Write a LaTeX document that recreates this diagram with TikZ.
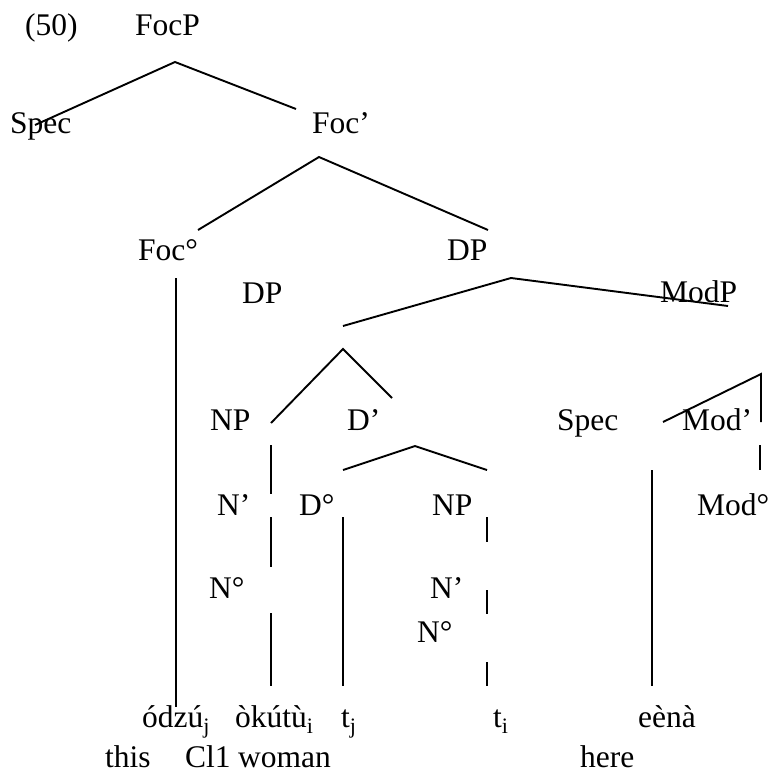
\documentclass[tikz,border=0pt]{standalone}
\usepackage{fontspec}
\setmainfont{Liberation Serif}
\usepackage{tikz}
\tikzset{
  lbl/.style={anchor=base west,inner sep=0pt,font=\fontsize{31.5}{36}\selectfont},
  br/.style={line width=1.9pt,line cap=butt}
}

\begin{document}
\begin{tikzpicture}[x=1pt,y=-1pt]
\useasboundingbox (0,0) rectangle (768,774);
% labels of the tree
\node[lbl] (ex) at (25,35) {(50)};
\node[lbl] (focp) at (135,35) {FocP};
\node[lbl] (specA) at (10,133) {Spec};
\node[lbl] (focbar) at (312,133) {Foc’};
\node[lbl] (foczero) at (138,260) {Foc°};
\node[lbl] (dpA) at (447,260) {DP};
\node[lbl] (dpB) at (242,303) {DP};
\node[lbl] (modp) at (660,302) {ModP};
\node[lbl] (npA) at (210,430) {NP};
\node[lbl] (dbar) at (347,430) {D’};
\node[lbl] (specB) at (557,430) {Spec};
\node[lbl] (modbar) at (682,430) {Mod’};
\node[lbl] (nbarA) at (217,515) {N’};
\node[lbl] (dzero) at (299,515) {D°};
\node[lbl] (npB) at (432,515) {NP};
\node[lbl] (modzero) at (697,515) {Mod°};
\node[lbl] (nzeroA) at (209,598) {N°};
\node[lbl] (nbarB) at (430,598) {N’};
\node[lbl] (nzeroB) at (417,642) {N°};
% words and glosses
\node[lbl] (wA) at (142,727) {ódzú\textsubscript{j}};
\node[lbl] (wB) at (235,727) {òkútù\textsubscript{i}};
\node[lbl] (wC) at (341,727) {t\textsubscript{j}};
\node[lbl] (wD) at (493,727) {t\textsubscript{i}};
\node[lbl] (wE) at (638,727) {eènà};
\node[lbl] (gA) at (105,767) {this};
\node[lbl] (gB) at (185,767) {Cl1};
\node[lbl] (gC) at (238,767) {woman};
\node[lbl] (gD) at (580,767) {here};
% branch points
\foreach \n/\x/\y in {t1/175/62, t1l/35/125, t1r/296/109,
  t2/319/157, t2l/198/230, t2r/488/230,
  t3/511/278, t3l/343/326, t3r/728/306,
  t4/343/349, t4l/271/423, t4r/392/398,
  t5/415/446, t5l/343/470, t5r/487/470,
  t6/761/374, t6l/663/422, t6r/761/422}
  \coordinate (\n) at (\x,\y);
\foreach \n in {t1,t2,t3,t4,t5}
  \draw[br] (\n l) -- (\n) -- (\n r);
\draw[br] (t6l) -- (t6) -- (t6r);
% vertical pieces
\foreach \x/\ya/\yb in {176/278/707, 652/470/686, 760/445/470,
  271/445/494, 271/517/567, 271/613/686, 343/517/686,
  487/517/542, 487/590/614, 487/662/686}
  \draw[br] (\x,\ya) coordinate (v\x\ya) -- (\x,\yb);
\end{tikzpicture}
\end{document}
